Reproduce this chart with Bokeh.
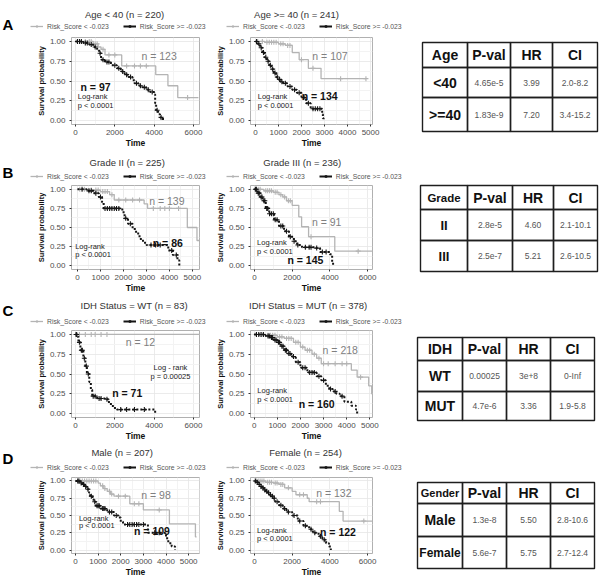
import numpy as np
from bokeh.plotting import figure
from bokeh.layouts import row, column
from bokeh.models import (Range1d, FixedTicker, NumeralTickFormatter, Label,
                          Legend, LegendItem)
from bokeh.embed import file_html
from bokeh.resources import INLINE
from bokeh.core.properties import value

FONT = "Liberation Sans"
LEGEND_LABELS = ["Risk_Score < -0.023", "Risk_Score >= -0.023"]

# ---------------- data ----------------
# A: Age < 40
AGE_LT40_LOW_T = [0, 900, 1150, 1300, 1500, 2350, 4080, 4700, 5200, 6250]
AGE_LT40_LOW_S = [1.00, 0.97, 0.93, 0.90, 0.83, 0.69, 0.58, 0.44, 0.29, 0.29]
AGE_LT40_LOW_C = [300, 500, 700, 800, 1000, 1100, 1400, 1700, 2000, 2600, 3000, 3300, 3600, 5700]
AGE_LT40_HIGH_T = [0, 400, 700, 900, 1100, 1200, 1300, 1500, 1800, 2100, 2300, 2500, 2700, 2900,
                   3000, 3200, 3400, 3600, 3800, 4000, 4050, 4100, 4200, 4300, 4450]
AGE_LT40_HIGH_S = [1.00, 0.98, 0.96, 0.93, 0.90, 0.85, 0.77, 0.74, 0.70, 0.66, 0.62, 0.58, 0.55, 0.51,
                   0.47, 0.44, 0.42, 0.39, 0.36, 0.33, 0.22, 0.13, 0.08, 0.04, 0.00]
AGE_LT40_HIGH_C = [100, 200, 300, 500, 600, 800, 1000, 1250, 1400, 1600, 1700, 2000, 2200, 2400,
                   2600, 2800, 3100, 3300, 3500, 3700, 3900, 4150, 4350]
# A: Age >= 40
AGE_GE40_LOW_T = [0, 400, 1000, 1300, 1600, 1900, 2300, 2850, 4800]
AGE_GE40_LOW_S = [1.00, 0.99, 0.97, 0.95, 0.86, 0.77, 0.66, 0.53, 0.53]
AGE_GE40_LOW_C = [100, 300, 500, 600, 700, 800, 900, 1100, 1200, 1400, 1500, 2000, 2500, 3700, 4800]
AGE_GE40_HIGH_T = [0, 100, 200, 300, 400, 500, 600, 700, 800, 900, 1000, 1100, 1200, 1400, 1600,
                   1800, 2000, 2200, 2400, 2900, 2930, 2960]
AGE_GE40_HIGH_S = [1.00, 0.97, 0.92, 0.86, 0.80, 0.75, 0.70, 0.65, 0.60, 0.55, 0.52, 0.49, 0.47, 0.43,
                   0.39, 0.35, 0.29, 0.22, 0.15, 0.08, 0.03, 0.00]
AGE_GE40_HIGH_C = [50, 150, 250, 350, 450, 550, 650, 750, 850, 950, 1050, 1150, 1300, 1500, 1700,
                   1900, 2100, 2300, 2500, 2600, 2700, 2800]
# B: Grade II
GRADE2_LOW_T = [0, 500, 1000, 1400, 1600, 2900, 3050, 4780, 5200, 5300]
GRADE2_LOW_S = [1.00, 0.99, 0.97, 0.93, 0.86, 0.81, 0.75, 0.50, 0.33, 0.33]
GRADE2_LOW_C = [100, 300, 600, 800, 900, 1100, 1200, 1300, 1500, 1800, 2100, 2400, 2700, 3300,
                3600, 3800, 4000, 4400]
GRADE2_HIGH_T = [0, 400, 700, 930, 1070, 1140, 1950, 2050, 2200, 2400, 2550, 2700, 2850, 3000,
                 3950, 4150, 4350, 4430]
GRADE2_HIGH_S = [1.00, 0.98, 0.95, 0.90, 0.83, 0.75, 0.70, 0.62, 0.55, 0.48, 0.42, 0.35, 0.30, 0.27,
                 0.20, 0.14, 0.07, 0.00]
GRADE2_HIGH_C = [200, 500, 600, 800, 1000, 1200, 1300, 1400, 1500, 1600, 1700, 1800, 2100, 2300,
                 3200, 3400, 3600, 4100, 4300]
# B: Grade III
GRADE3_LOW_T = [0, 500, 1000, 1300, 1500, 1700, 2000, 2350, 2500, 2870, 4260, 6250]
GRADE3_LOW_S = [1.00, 0.98, 0.96, 0.93, 0.90, 0.85, 0.79, 0.64, 0.51, 0.38, 0.19, 0.19]
GRADE3_LOW_C = [100, 200, 300, 600, 700, 800, 900, 1100, 1200, 1400, 1600, 1800, 1900, 3000, 5500]
GRADE3_HIGH_T = [0, 150, 300, 430, 600, 780, 1040, 1300, 1570, 1830, 2090, 2260, 2520, 3220, 3480,
                 4000, 4120, 4170]
GRADE3_HIGH_S = [1.00, 0.95, 0.90, 0.85, 0.75, 0.68, 0.60, 0.52, 0.45, 0.38, 0.32, 0.27, 0.24, 0.23,
                 0.18, 0.15, 0.05, 0.00]
GRADE3_HIGH_C = [50, 100, 200, 250, 350, 400, 500, 550, 650, 700, 800, 900, 1000, 1100, 1200, 1400,
                 1500, 1700, 1900, 2100, 2300, 2700, 2900, 3000, 3300, 3600, 3800]
# C: IDH WT
IDHWT_LOW_T = [0, 6300]
IDHWT_LOW_S = [1.00, 1.00]
IDHWT_LOW_C = [200, 500, 800, 1000, 1300, 1600]
IDHWT_HIGH_T = [0, 100, 150, 250, 400, 500, 580, 700, 780, 850, 1100, 1500, 1700, 1900, 2100, 4050]
IDHWT_HIGH_S = [1.00, 0.97, 0.90, 0.80, 0.70, 0.60, 0.50, 0.40, 0.30, 0.22, 0.19, 0.18, 0.12, 0.07,
                0.05, 0.00]
IDHWT_HIGH_C = [30, 60, 200, 300, 350, 450, 550, 650, 900, 1000, 1200, 1300, 1600, 2300, 2600,
                3000, 3500]
# C: IDH MUT
IDHMUT_LOW_T = [0, 500, 1000, 1300, 1700, 2000, 2200, 2500, 2700, 2900, 4200, 4450, 4950, 5080, 5110]
IDHMUT_LOW_S = [1.00, 0.99, 0.97, 0.95, 0.90, 0.84, 0.80, 0.75, 0.70, 0.63, 0.55, 0.46, 0.35, 0.25,
                0.25]
IDHMUT_LOW_C = [100, 300, 400, 600, 700, 800, 900, 1100, 1200, 1400, 1500, 1600, 1800, 1900, 2100,
                2300, 2400, 2600, 2800, 3000, 3200, 3500, 3800, 4000, 4600]
IDHMUT_HIGH_T = [0, 500, 700, 850, 1000, 1150, 1300, 1450, 1600, 1800, 2000, 2300, 2700, 2900, 3100,
                 3250, 3400, 3550, 3700, 3900, 4200, 4400, 4450]
IDHMUT_HIGH_S = [1.00, 0.98, 0.96, 0.93, 0.90, 0.85, 0.80, 0.76, 0.72, 0.65, 0.58, 0.52, 0.47, 0.42,
                 0.35, 0.31, 0.28, 0.25, 0.22, 0.15, 0.10, 0.05, 0.00]
IDHMUT_HIGH_C = [100, 200, 300, 400, 600, 650, 750, 800, 900, 950, 1050, 1100, 1200, 1250, 1350,
                 1400, 1500, 1550, 1700, 1900, 2100, 2200, 2400, 2500, 2600, 2800, 3000, 3300, 3500,
                 3800]
# D: Male
MALE_LOW_T = [0, 1000, 1100, 1250, 1400, 1550, 1700, 2400, 3000, 4150, 5300, 5350]
MALE_LOW_S = [1.00, 0.97, 0.93, 0.89, 0.85, 0.81, 0.78, 0.67, 0.58, 0.38, 0.19, 0.19]
MALE_LOW_C = [100, 200, 300, 400, 500, 600, 700, 800, 900, 1200, 1300, 1500, 1600, 1900, 2200,
              2600, 2800, 3700]
MALE_HIGH_T = [0, 200, 300, 400, 500, 600, 650, 750, 800, 900, 1100, 1400, 1700, 1900, 2000, 2100,
               3200, 4000, 4100, 4250, 4400]
MALE_HIGH_S = [1.00, 0.97, 0.95, 0.92, 0.88, 0.83, 0.78, 0.74, 0.70, 0.64, 0.60, 0.55, 0.50, 0.47,
               0.41, 0.37, 0.25, 0.17, 0.10, 0.05, 0.00]
MALE_HIGH_C = [100, 150, 250, 350, 450, 550, 700, 850, 950, 1000, 1050, 1200, 1250, 1300, 1500,
               1600, 1800, 2300, 2400, 2500, 2600, 2700, 2800, 3000, 3500, 3700]
# D: Female
FEMALE_LOW_T = [0, 600, 1000, 1300, 1600, 2000, 2200, 2800, 2900, 4500, 4700, 6250]
FEMALE_LOW_S = [1.00, 0.98, 0.97, 0.95, 0.90, 0.85, 0.80, 0.75, 0.70, 0.56, 0.42, 0.42]
FEMALE_LOW_C = [100, 200, 300, 400, 500, 700, 800, 900, 1100, 1200, 1400, 1500, 1800, 2400, 2600,
                3300, 3500, 5800]
FEMALE_HIGH_T = [0, 100, 200, 300, 400, 500, 600, 700, 800, 900, 1000, 1100, 1300, 1500, 1700, 2000,
                 2300, 2600, 2900, 3100, 3400, 3600, 3800, 3950, 4050]
FEMALE_HIGH_S = [1.00, 0.98, 0.95, 0.92, 0.90, 0.87, 0.85, 0.83, 0.80, 0.78, 0.75, 0.70, 0.65, 0.60,
                 0.55, 0.50, 0.42, 0.35, 0.30, 0.25, 0.20, 0.15, 0.10, 0.05, 0.00]
FEMALE_HIGH_C = [50, 150, 250, 350, 450, 550, 650, 750, 850, 950, 1050, 1200, 1400, 1600, 1800,
                 2100, 2400, 2700, 3000, 3200, 3500, 3700]

TITLES = ["Age < 40 (n = 220)", "Age >= 40 (n = 241)", "Grade II  (n = 225)", "Grade III  (n = 236)",
          "IDH Status = WT  (n = 83)", "IDH Status = MUT  (n = 378)", "Male  (n = 207)",
          "Female (n = 254)"]
PANEL_LETTERS = ["A", "B", "C", "D"]
N_LOW = ["n = 123", "n = 107", "n = 139", "n = 91", "n = 12", "n = 218", "n = 98", "n = 132"]
N_HIGH = ["n = 97", "n = 134", "n = 86", "n = 145", "n = 71", "n = 160", "n = 109", "n = 122"]
LOGRANK = [["Log-rank", "p < 0.0001"]] * 4 + [["Log - rank", "p = 0.00025"]] + [["Log-rank", "p < 0.0001"]] * 3
X_TICKS_2K = [0, 2000, 4000, 6000]
X_TICKS_1K = [0, 1000, 2000, 3000, 4000, 5000]
Y_TICKS = [0.0, 0.25, 0.5, 0.75, 1.0]

TABLE_HEAD = [["Age", "P-val", "HR", "CI"], ["Grade", "P-val", "HR", "CI"],
              ["IDH", "P-val", "HR", "CI"], ["Gender", "P-val", "HR", "CI"]]
TABLE_ROWS = [
    [["<40", "4.65e-5", "3.99", "2.0-8.2"], [">=40", "1.83e-9", "7.20", "3.4-15.2"]],
    [["II", "2.8e-5", "4.60", "2.1-10.1"], ["III", "2.5e-7", "5.21", "2.6-10.5"]],
    [["WT", "0.00025", "3e+8", "0-Inf"], ["MUT", "4.7e-6", "3.36", "1.9-5.8"]],
    [["Male", "1.3e-8", "5.50", "2.8-10.6"], ["Female", "5.6e-7", "5.75", "2.7-12.4"]],
]

GRAY = "#b4b4b4"
BLACK = "#151515"


def surv_at(T, S, times):
    idx = np.searchsorted(np.asarray(T), np.asarray(times), side="right") - 1
    return np.asarray(S)[idx]


def header_plot(width, height, idx, title_x, title_y, legend_x, legend_y, letter=None, letter_y=0):
    h = figure(width=width, height=height, x_range=Range1d(0, width), y_range=Range1d(0, height),
               min_border=0, toolbar_location=None, output_backend="svg",
               x_axis_type=None, y_axis_type=None)
    h.outline_line_color = None
    h.grid.visible = False
    # legend-key renderers: one point placed outside the visible range so only the key shows
    off = [-100, -90]
    g1 = h.line(x=off, y=off, line_color=GRAY, line_width=1.3)
    g2 = h.scatter(x=off[:1], y=off[:1], marker="cross", size=5, line_color=GRAY, line_width=1.1)
    k1 = h.line(x=off, y=off, line_color=BLACK, line_width=2.0)
    k2 = h.scatter(x=off[:1], y=off[:1], marker="cross", size=6, line_color=BLACK, line_width=1.4)
    legend = Legend(items=[LegendItem(label=LEGEND_LABELS[0], renderers=[g1, g2]),
                           LegendItem(label=LEGEND_LABELS[1], renderers=[k1, k2])],
                    location=(legend_x, legend_y), orientation="horizontal",
                    label_text_font=FONT, label_text_font_size="6.8px", label_text_color="#555555",
                    glyph_width=13, glyph_height=8, label_height=8, label_standoff=4, spacing=14,
                    padding=0, margin=0, border_line_color=None, background_fill_alpha=0)
    h.add_layout(legend, "center")
    h.add_layout(Label(x=title_x, y=title_y, text=TITLES[idx], text_font=FONT,
                       text_font_size="9.5px", text_color="#333333", text_align="center",
                       text_baseline="middle"))
    if letter:
        h.add_layout(Label(x=2, y=letter_y, text=letter, text_font=FONT, text_font_size="15px",
                           text_font_style="bold", text_color="#000000", text_align="left",
                           text_baseline="middle"))
    return h


def km_plot(width, height, bl, br, bt, bb, xr, xticks, low, high, idx,
            nlow_xy, nhigh_xy, lr_xy, lr_align):
    p = figure(width=width, height=height, min_border_left=bl, min_border_right=br,
               min_border_top=bt, min_border_bottom=bb,
               x_range=Range1d(*xr), y_range=Range1d(-0.05, 1.05),
               output_backend="svg", toolbar_location=None)
    p.outline_line_color = "#b0b0b0"
    p.outline_line_width = 1
    p.background_fill_color = "white"
    p.border_fill_color = "white"

    xt = list(xticks)
    xm = [(a + b) / 2 for a, b in zip(xt[:-1], xt[1:])] + [xt[-1] + (xt[1] - xt[0]) / 2]
    p.xaxis.ticker = FixedTicker(ticks=xt, minor_ticks=xm)
    ym = [(a + b) / 2 for a, b in zip(Y_TICKS[:-1], Y_TICKS[1:])]
    p.yaxis.ticker = FixedTicker(ticks=Y_TICKS, minor_ticks=ym)
    p.yaxis.formatter = NumeralTickFormatter(format="0.00")
    p.xaxis.formatter = NumeralTickFormatter(format="0")
    for ax in (p.xaxis, p.yaxis):
        ax.axis_line_color = None
        ax.major_tick_line_color = "#333333"
        ax.major_tick_in = 0
        ax.major_tick_out = 2
        ax.minor_tick_line_color = None
        ax.major_label_text_font = FONT
        ax.major_label_text_font_size = "8px"
        ax.major_label_text_color = "#4d4d4d"
        ax.major_label_standoff = 1
        ax.axis_label_text_font = FONT
        ax.axis_label_text_font_style = "bold"
        ax.axis_label_text_color = "#111111"
        ax.axis_label_standoff = 1
    p.xaxis.axis_label = "Time"
    p.xaxis.axis_label_text_font_size = "8.5px"
    p.xaxis.axis_label_standoff = 0
    p.yaxis.axis_label = "Survival probability"
    p.yaxis.axis_label_text_font_size = "7.5px"
    p.yaxis.major_label_standoff = 2
    p.grid.grid_line_color = "#e6e6e6"
    p.grid.grid_line_width = 0.8
    p.grid.minor_grid_line_color = "#f3f3f3"

    for (T, S, C), col, dash, lw in ((low, GRAY, "solid", 1.3), (high, BLACK, "2 2", 2.0)):
        p.step(T, S, mode="after", line_color=col, line_width=lw, line_dash=dash)
        p.scatter(C, surv_at(T, S, C), marker="cross", size=5, line_color=col, line_width=1.1)

    p.add_layout(Label(x=nlow_xy[0], y=nlow_xy[1], text=N_LOW[idx], text_font=FONT,
                       text_font_size="10.5px", text_color="#808080", text_align="center",
                       text_baseline="middle"))
    p.add_layout(Label(x=nhigh_xy[0], y=nhigh_xy[1], text=N_HIGH[idx], text_font=FONT,
                       text_font_size="10.5px", text_font_style="bold", text_color="#111111",
                       text_align="center", text_baseline="middle"))
    for k, line in enumerate(LOGRANK[idx]):
        p.add_layout(Label(x=lr_xy[0], y=lr_xy[1] - 0.11 * k, text=line, text_font=FONT,
                           text_font_size="7.5px", text_color="#222222", text_align=lr_align,
                           text_baseline="middle"))
    return p


def table_plot(width, height, x0, y0, col_w, row_h, k, head_first_size, first_sizes):
    t = figure(width=width, height=height, x_range=Range1d(0, width), y_range=Range1d(height, 0),
               min_border=0, toolbar_location=None, output_backend="svg",
               x_axis_type=None, y_axis_type=None)
    t.outline_line_color = None
    t.grid.visible = False
    xs = x0 + np.concatenate([[0], np.cumsum(col_w)])
    ys = y0 + np.concatenate([[0], np.cumsum(row_h)])
    L, R, TP, BT = [], [], [], []
    for r in range(len(row_h)):
        for c in range(len(col_w)):
            L.append(xs[c]); R.append(xs[c + 1]); TP.append(ys[r]); BT.append(ys[r + 1])
    t.quad(left=L, right=R, top=TP, bottom=BT, fill_color=None, line_color="#1e1e1e", line_width=1.4)
    cx = (xs[:-1] + xs[1:]) / 2
    cy = (ys[:-1] + ys[1:]) / 2
    head = TABLE_HEAD[k]
    t.text(x=[cx[0]], y=[cy[0]], text=[head[0]], text_font=value(FONT),
           text_font_size=value(head_first_size), text_font_style="bold", text_color="#111111",
           text_align="center", text_baseline="middle")
    t.text(x=list(cx[1:]), y=[cy[0]] * 3, text=head[1:], text_font=value(FONT),
           text_font_size=value("14px"), text_font_style="bold", text_color="#111111",
           text_align="center", text_baseline="middle")
    for r, rowvals in enumerate(TABLE_ROWS[k]):
        t.text(x=[cx[0]], y=[cy[r + 1]], text=[rowvals[0]], text_font=value(FONT),
               text_font_size=value(first_sizes[r]), text_font_style="bold", text_color="#111111",
               text_align="center", text_baseline="middle")
        t.text(x=list(cx[1:]), y=[cy[r + 1]] * 3, text=rowvals[1:], text_font=value(FONT),
               text_font_size=value("8.5px"), text_color="#555555",
               text_align="center", text_baseline="middle")
    return t


W_L, W_R, W_T = 212, 193, 195
BL_L, BR_L, BL_R, BR_R = 71, 13, 36, 33
BT, BB = 3, 25


def km_row(k, hdr_h, fh, xr_l, xt_l, low_l, high_l, xr_r, xt_r, low_r, high_r,
           tx_l, tx_r, title_y, legend_y, letter_y, lab_l, lab_r, table_args):
    km_h = BT + fh + BB
    h1 = header_plot(W_L, hdr_h, 2 * k, tx_l, title_y, 30, legend_y, PANEL_LETTERS[k], letter_y)
    h2 = header_plot(W_R, hdr_h, 2 * k + 1, tx_r, title_y, 14, legend_y)
    p1 = km_plot(W_L, km_h, BL_L, BR_L, BT, BB, xr_l, xt_l, low_l, high_l, 2 * k, *lab_l)
    p2 = km_plot(W_R, km_h, BL_R, BR_R, BT, BB, xr_r, xt_r, low_r, high_r, 2 * k + 1, *lab_r)
    tbl = table_plot(W_T, hdr_h + km_h, *table_args)
    # single-child wrappers keep each header's frame independent of the plot below it
    return row(column(row(h1), row(p1)), column(row(h2), row(p2)), tbl)


rA = km_row(0, 34, 88, (-203, 6305), X_TICKS_2K,
            (AGE_LT40_LOW_T, AGE_LT40_LOW_S, AGE_LT40_LOW_C),
            (AGE_LT40_HIGH_T, AGE_LT40_HIGH_S, AGE_LT40_HIGH_C),
            (-214, 5085), X_TICKS_1K,
            (AGE_GE40_LOW_T, AGE_GE40_LOW_S, AGE_GE40_LOW_C),
            (AGE_GE40_HIGH_T, AGE_GE40_HIGH_S, AGE_GE40_HIGH_C),
            124, 84, 20, 4, 10,
            ((4250, 0.81), (1020, 0.43), (120, 0.30), "left"),
            ((3240, 0.81), (2790, 0.31), (100, 0.30), "left"),
            (17, 42, [45, 43, 42, 45], [25, 30, 34], 0, "14px", ["14px", "14px"]))

rB = km_row(1, 32, 85, (-260, 5310), X_TICKS_1K,
            (GRADE2_LOW_T, GRADE2_LOW_S, GRADE2_LOW_C),
            (GRADE2_HIGH_T, GRADE2_HIGH_S, GRADE2_HIGH_C),
            (-210, 6260), X_TICKS_2K,
            (GRADE3_LOW_T, GRADE3_LOW_S, GRADE3_LOW_C),
            (GRADE3_HIGH_T, GRADE3_HIGH_S, GRADE3_HIGH_C),
            128, 91, 20, 2, 10,
            ((3890, 0.85), (3930, 0.30), (-100, 0.25), "left"),
            ((3830, 0.57), (2700, 0.07), (140, 0.30), "left"),
            (15, 35, [47, 45, 41, 44], [24, 31, 31], 1, "11.5px", ["13px", "13px"]))

rC = km_row(2, 32, 88, (-203, 6305), X_TICKS_2K,
            (IDHWT_LOW_T, IDHWT_LOW_S, IDHWT_LOW_C),
            (IDHWT_HIGH_T, IDHWT_HIGH_S, IDHWT_HIGH_C),
            (-157, 5114), X_TICKS_1K,
            (IDHMUT_LOW_T, IDHMUT_LOW_S, IDHMUT_LOW_C),
            (IDHMUT_HIGH_T, IDHMUT_HIGH_S, IDHMUT_HIGH_C),
            135, 97, 22, 2, 17,
            ((3300, 0.90), (2630, 0.26), (4830, 0.58), "center"),
            ((3720, 0.80), (2700, 0.125), (140, 0.29), "left"),
            (12, 42, [45, 44, 44, 44], [23, 31, 29], 2, "14px", ["14px", "14px"]))

rD = km_row(3, 31, 77, (-177, 5480), X_TICKS_1K,
            (MALE_LOW_T, MALE_LOW_S, MALE_LOW_C),
            (MALE_HIGH_T, MALE_HIGH_S, MALE_HIGH_C),
            (-210, 6260), X_TICKS_2K,
            (FEMALE_LOW_T, FEMALE_LOW_S, FEMALE_LOW_C),
            (FEMALE_HIGH_T, FEMALE_HIGH_S, FEMALE_HIGH_C),
            123, 93, 22, 3, 16,
            ((3560, 0.79), (3380, 0.27), (150, 0.46), "left"),
            ((4210, 0.82), (4430, 0.26), (140, 0.28), "left"),
            (12, 39, [45, 44, 44, 44], [21, 33, 32], 3, "11px", ["14px", "12px"]))

layout = column(rA, rB, rC, rD)

with open("out.html", "w") as f:
    f.write(file_html(layout, INLINE))
